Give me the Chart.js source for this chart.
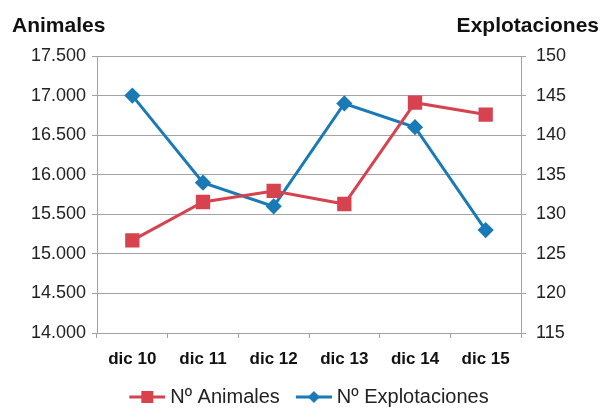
<!DOCTYPE html>
<html>
<head>
<meta charset="utf-8">
<script src="https://cdn.jsdelivr.net/npm/chart.js@4/dist/chart.umd.min.js"></script>
<style>
  html, body { margin: 0; padding: 0; background: #fff; }
  #wrap { width: 602px; height: 409px; position: relative; }
</style>
</head>
<body>
<div id="wrap"><canvas id="chart" width="602" height="409"></canvas></div>
<script>
// Chart data
const categories = ['dic 10', 'dic 11', 'dic 12', 'dic 13', 'dic 14', 'dic 15'];
const animales = [15170, 15655, 15795, 15630, 16910, 16760];
const explotaciones = [145, 134, 131, 144, 141, 128];
const seriesNames = ['Nº Animales', 'Nº Explotaciones'];
const leftTitle = 'Animales';
const rightTitle = 'Explotaciones';

const RED = '#d6434f';
const BLUE = '#1a7ab6';
const GRID = '#a3a3a3';
const tickFont = { family: '"Liberation Sans", Arial, sans-serif', size: 18 };

// Format with dot as thousands separator
function formatMiles(v) {
    return String(v).replace(/\B(?=(\d{3})+(?!\d))/g, '.');
}

// Legend samples: line with marker in the middle (transparent space on the left)
function makeSample(color, shape) {
    const c = document.createElement('canvas');
    c.width = 57;
    c.height = 14;
    const g = c.getContext('2d');
    const x0 = 21, x1 = 57, mid = 39;
    g.strokeStyle = color;
    g.lineWidth = 3;
    g.beginPath();
    g.moveTo(x0, 7);
    g.lineTo(x1, 7);
    g.stroke();
    g.fillStyle = color;
    if (shape === 'square') {
        g.fillRect(mid - 6, 1, 12, 12);
    } else {
        g.beginPath();
        g.moveTo(mid, 1);
        g.lineTo(mid + 6, 7);
        g.lineTo(mid, 13);
        g.lineTo(mid - 6, 7);
        g.closePath();
        g.fill();
    }
    return c;
}
const samples = [makeSample(RED, 'square'), makeSample(BLUE, 'diamond')];

// Axis titles drawn at the top corners
const cornerTitles = {
    id: 'cornerTitles',
    afterDraw(chart) {
        const ctx = chart.ctx;
        ctx.save();
        ctx.fillStyle = '#111';
        ctx.font = 'bold 21px "Liberation Sans", Arial, sans-serif';
        ctx.textBaseline = 'alphabetic';
        ctx.textAlign = 'left';
        ctx.fillText(leftTitle, 12, 32);
        ctx.textAlign = 'right';
        ctx.fillText(rightTitle, 599, 32);
        ctx.restore();
    }
};

const ctx = document.getElementById('chart').getContext('2d');
new Chart(ctx, {
    type: 'line',
    data: {
        labels: categories,
        datasets: [{
            label: seriesNames[0],
            data: animales,
            yAxisID: 'y',
            borderColor: RED,
            backgroundColor: RED,
            borderWidth: 3,
            pointStyle: 'rect',
            pointRadius: 8,
            pointHoverRadius: 8,
            tension: 0
        }, {
            label: seriesNames[1],
            data: explotaciones,
            yAxisID: 'y1',
            borderColor: BLUE,
            backgroundColor: BLUE,
            borderWidth: 3,
            pointStyle: 'rectRot',
            pointRadius: 6,
            pointHoverRadius: 6,
            tension: 0
        }]
    },
    options: {
        responsive: false,
        animation: false,
        layout: { padding: { top: 56, left: 0, right: 0, bottom: -8 } },
        scales: {
            x: {
                offset: true,
                grid: { offset: true, drawOnChartArea: false, drawTicks: true, tickLength: 5, color: GRID },
                border: { color: GRID },
                ticks: {
                    padding: 11,
                    color: '#111',
                    font: { family: '"Liberation Sans", Arial, sans-serif', size: 17, weight: 'bold' }
                },
                afterFit(scale) { scale.height = 54; }
            },
            y: {
                position: 'left',
                min: 14000,
                max: 17500,
                ticks: {
                    stepSize: 500,
                    padding: 6,
                    color: '#222',
                    font: tickFont,
                    callback: v => formatMiles(v)
                },
                grid: { color: GRID, tickLength: 5 },
                border: { color: GRID },
                afterFit(scale) { scale.width = 97; }
            },
            y1: {
                position: 'right',
                min: 115,
                max: 150,
                ticks: {
                    stepSize: 5,
                    padding: 10,
                    color: '#222',
                    font: tickFont
                },
                grid: { drawOnChartArea: false, color: GRID, tickLength: 5 },
                border: { color: GRID },
                afterFit(scale) { scale.width = 81; }
            }
        },
        plugins: {
            legend: {
                position: 'bottom',
                labels: {
                    usePointStyle: true,
                    pointStyleWidth: 47,
                    padding: 0,
                    color: '#222',
                    font: { family: '"Liberation Sans", Arial, sans-serif', size: 20 },
                    generateLabels(chart) {
                        return chart.data.datasets.map((ds, i) => ({
                            text: ds.label,
                            pointStyle: samples[i],
                            fillStyle: ds.borderColor,
                            strokeStyle: ds.borderColor,
                            lineWidth: 0,
                            hidden: false,
                            datasetIndex: i,
                            fontColor: '#222'
                        }));
                    }
                }
            },
            tooltip: { enabled: false }
        }
    },
    plugins: [cornerTitles]
});
</script>
</body>
</html>
